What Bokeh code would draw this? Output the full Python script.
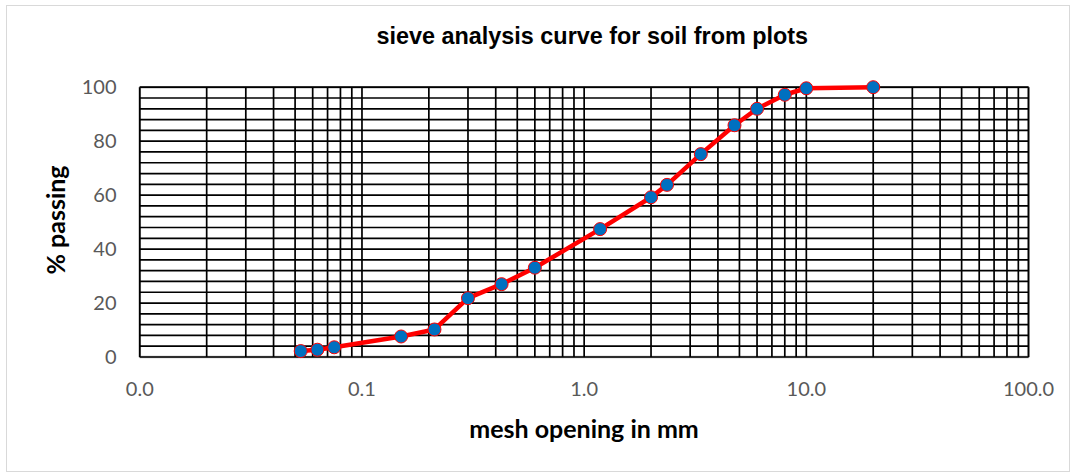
from bokeh.plotting import figure
from bokeh.models import Range1d, FixedTicker, PrintfTickFormatter, BoxAnnotation, Title
from bokeh.embed import file_html
from bokeh.resources import INLINE

# Sieve analysis results: mesh opening (mm) and cumulative % passing
mesh_mm = [0.053, 0.063, 0.075, 0.15, 0.212, 0.3, 0.425, 0.6, 1.18, 2.0, 2.36,
           3.35, 4.75, 6.0, 8.0, 10.0, 20.0]
passing_pct = [2.2, 2.7, 3.6, 7.6, 10.2, 21.8, 27.0, 33.1, 47.4, 59.2, 63.8,
               75.2, 85.9, 92.0, 97.2, 99.6, 100.0]

x_major = [0.01, 0.1, 1, 10, 100]
x_minor = [m * d for d in [0.01, 0.1, 1, 10] for m in range(2, 10)]
y_major = [0, 20, 40, 60, 80, 100]
y_minor = list(range(0, 101, 4))

X_LO, X_HI = 0.01, 100.0
Y_LO, Y_HI = 0.0, 100.0

LABEL_FONT = "Lato"
GRID_W = 1.7

# The frame is a few pixels larger than the 0.01-100 / 0-100 box so that
# markers sitting on the 100 % line are drawn whole; grid and box are
# drawn only inside the 0.01-100 x 0-100 area.
DECADE_PX = 222.2
Y_PX = 2.698
x_range = Range1d(10 ** (-2 - 4.3 / DECADE_PX), 10 ** (2 + 4.0 / DECADE_PX))
y_range = Range1d(Y_LO - 4.5 / Y_PX, Y_HI + 8.7 / Y_PX)

p = figure(width=1062, height=465, x_axis_type="log", title=None,
           x_range=x_range, y_range=y_range,
           output_backend="svg", toolbar_location=None,
           min_border_left=128, min_border_right=37,
           min_border_top=72, min_border_bottom=110)
p.margin = (6, 0, 0, 7)
p.styles = {"outline": "1px solid #d9d9d9"}
p.outline_line_color = None
p.background_fill_color = "white"
p.border_fill_color = "white"

# spacer panel between the frame and the chart title
p.add_layout(Title(text=" ", text_font_size="1px", standoff=27), "above")
p.add_layout(Title(text="sieve analysis curve for soil from plots",
                   align="left", offset=241, standoff=0,
                   text_font="Liberation Sans", text_font_style="bold",
                   text_font_size="23.4px", text_color="black"), "above")

xt = FixedTicker(ticks=x_major, minor_ticks=x_minor)
yt = FixedTicker(ticks=y_major, minor_ticks=y_minor)
p.xaxis.ticker = xt
p.yaxis.ticker = yt
p.xaxis.formatter = PrintfTickFormatter(format="%.1f")
p.xgrid.visible = False
p.ygrid.visible = False

for ax in (p.xaxis, p.yaxis):
    ax.axis_line_color = None
    ax.major_tick_line_color = None
    ax.minor_tick_line_color = None
    ax.major_tick_out = 0
    ax.major_label_text_font = LABEL_FONT
    ax.major_label_text_font_size = "20px"
    ax.major_label_text_color = "#595959"
    ax.axis_label_text_font = LABEL_FONT
    ax.axis_label_text_font_style = "bold"
    ax.axis_label_text_font_size = "25px"
    ax.axis_label_text_color = "black"

p.xaxis.major_label_standoff = 16
p.yaxis.major_label_standoff = 15
p.xaxis.axis_label = "mesh opening in mm"
p.yaxis.axis_label = "% passing"
p.xaxis.axis_label_standoff = 14
p.yaxis.axis_label_standoff = 9

# plot-area box, drawn beneath the data
p.add_layout(BoxAnnotation(left=X_LO, right=X_HI, bottom=Y_LO, top=Y_HI,
                           fill_color=None, fill_alpha=0, line_color="black",
                           line_width=2.5, level="underlay"))

# grid: vertical lines at every major/minor x tick, horizontal every 4 %
x_grid = sorted(set(x_major + x_minor))
p.segment(x0=x_grid, x1=x_grid, y0=[Y_LO] * len(x_grid), y1=[Y_HI] * len(x_grid),
          line_color="black", line_width=GRID_W)
p.segment(x0=[X_LO] * len(y_minor), x1=[X_HI] * len(y_minor), y0=y_minor, y1=y_minor,
          line_color="black", line_width=GRID_W)

p.line(mesh_mm, passing_pct, line_color="#ff0000", line_width=4.5)
p.scatter(mesh_mm, passing_pct, size=13, fill_color="#0070c0",
          line_color="#ff0000", line_width=1)

open("out.html", "w").write(file_html(p, INLINE))
